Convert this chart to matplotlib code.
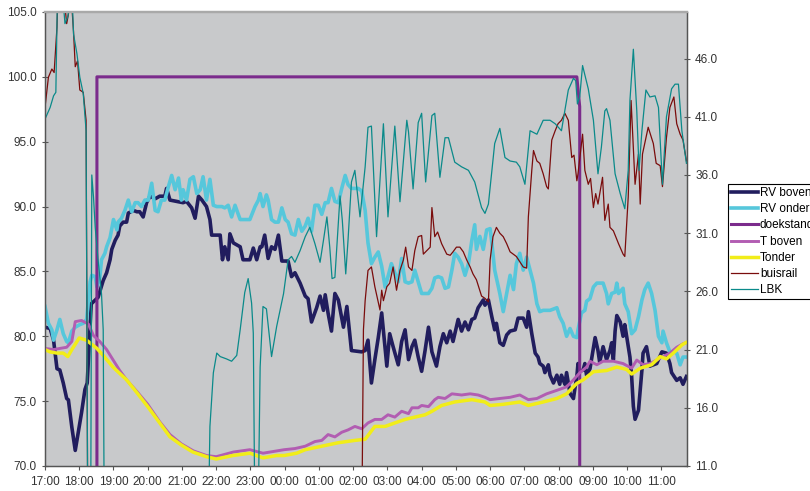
import matplotlib
matplotlib.use('Agg')
import matplotlib.pyplot as plt
import numpy as np

# ------------------------------------------------------------------
#   Data, times are clock times 17:00 -> 11:45
# ------------------------------------------------------------------
rv_boven_time = ['17:00', '17:09', '17:15', '17:21', '17:26', '17:32', '17:38', '17:41', '17:47', '17:53',
                 '17:58', '18:04', '18:10', '18:14', '18:21', '18:33', '18:42', '18:48', '18:54', '18:57',
                 '19:03', '19:08', '19:11', '19:17', '19:23', '19:26', '19:35', '19:41', '19:46', '19:52',
                 '19:58', '20:04', '20:13', '20:21', '20:30', '20:33', '20:39', '20:51', '21:02', '21:08',
                 '21:17', '21:23', '21:29', '21:35', '21:43', '21:49', '21:52', '22:07', '22:11', '22:15',
                 '22:21', '22:24', '22:30', '22:42', '22:47', '22:59', '23:05', '23:11', '23:17', '23:20',
                 '23:25', '23:31', '23:37', '23:43', '23:49', '23:55', '00:06', '00:12', '00:18', '00:27',
                 '00:36', '00:41', '00:47', '00:56', '01:02', '01:08', '01:11', '01:16', '01:22', '01:28',
                 '01:34', '01:43', '01:49', '01:57', '02:15', '02:21', '02:26', '02:32', '02:38', '02:44',
                 '02:50', '02:59', '03:04', '03:10', '03:19', '03:25', '03:31', '03:37', '03:43', '03:48',
                 '03:54', '04:00', '04:06', '04:12', '04:18', '04:26', '04:32', '04:38', '04:44', '04:50',
                 '04:55', '05:04', '05:10', '05:16', '05:22', '05:28', '05:33', '05:39', '05:48', '05:51',
                 '05:57', '06:03', '06:08', '06:11', '06:17', '06:23', '06:29', '06:35', '06:44', '06:49',
                 '06:58', '07:04', '07:07', '07:13', '07:19', '07:24', '07:27', '07:33', '07:36', '07:42',
                 '07:45', '07:51', '07:57', '08:02', '08:05', '08:11', '08:14', '08:20', '08:26', '08:29',
                 '08:32', '08:34', '08:37', '08:43', '08:46', '08:49', '08:55', '09:04', '09:09', '09:12',
                 '09:18', '09:24', '09:30', '09:33', '09:36', '09:39', '09:42', '09:48', '09:53', '09:56',
                 '10:02', '10:05', '10:08', '10:11', '10:14', '10:20', '10:26', '10:28', '10:34', '10:40',
                 '10:46', '10:52', '11:01', '11:09', '11:15', '11:18', '11:27', '11:33', '11:38', '11:44']
rv_boven = [80.7, 80.6, 79.7, 77.5, 77.4, 76.4, 75.2, 75.1, 73.0, 71.2,
            72.5, 74.1, 75.9, 76.4, 82.5, 83.0, 84.3, 84.9, 85.9, 86.7,
            87.4, 87.8, 88.5, 88.8, 88.8, 89.5, 89.7, 89.6, 89.6, 89.2,
            90.3, 90.8, 90.6, 90.8, 90.8, 91.4, 90.5, 90.4, 90.3, 90.4,
            89.9, 89.1, 90.8, 90.5, 90.0, 89.0, 87.8, 87.8, 85.9, 86.9,
            85.9, 87.9, 87.2, 86.9, 85.9, 85.9, 86.8, 85.9, 86.9, 86.9,
            87.8, 86.0, 86.9, 86.7, 87.8, 85.8, 85.8, 84.6, 84.9, 84.1,
            83.1, 82.9, 81.1, 82.2, 83.1, 82.0, 83.2, 81.8, 80.4, 83.3,
            82.8, 80.7, 82.3, 78.9, 78.8, 78.9, 79.7, 76.4, 78.2, 79.9,
            81.8, 77.7, 80.2, 79.2, 77.8, 79.6, 80.5, 78.2, 79.2, 79.7,
            78.4, 77.3, 78.9, 80.7, 78.8, 77.7, 79.2, 80.2, 79.5, 80.4,
            79.6, 81.3, 80.4, 81.1, 80.5, 81.3, 81.4, 82.2, 82.8, 82.4,
            82.8, 81.5, 80.5, 81.0, 79.5, 79.3, 80.1, 80.4, 80.5, 81.4,
            81.4, 80.7, 81.9, 80.2, 78.7, 78.4, 77.9, 77.7, 77.2, 77.8,
            77.0, 76.4, 77.0, 76.3, 77.0, 76.3, 77.2, 75.6, 75.2, 76.1,
            76.9, 77.9, 77.3, 77.4, 77.9, 77.0, 77.5, 79.9, 78.9, 78.0,
            79.2, 78.2, 78.9, 79.5, 78.2, 80.4, 81.6, 81.1, 80.0, 80.9,
            79.2, 78.4, 76.9, 74.6, 73.6, 74.3, 77.4, 78.7, 79.2, 77.7,
            77.8, 77.9, 78.8, 78.7, 77.9, 77.2, 76.6, 76.8, 76.3, 76.9]

rv_onder_time = ['17:00', '17:06', '17:12', '17:15', '17:21', '17:26', '17:32', '17:38', '17:41', '17:47',
                 '17:53', '18:01', '18:07', '18:13', '18:16', '18:19', '18:22', '18:28', '18:31', '18:36',
                 '18:39', '18:45', '18:48', '18:54', '19:00', '19:06', '19:08', '19:14', '19:20', '19:26',
                 '19:29', '19:32', '19:38', '19:43', '19:49', '19:55', '20:01', '20:07', '20:13', '20:18',
                 '20:24', '20:30', '20:36', '20:42', '20:48', '20:54', '20:59', '21:02', '21:08', '21:14',
                 '21:20', '21:26', '21:32', '21:37', '21:43', '21:49', '21:55', '22:01', '22:10', '22:15',
                 '22:21', '22:27', '22:33', '22:42', '22:50', '22:59', '23:08', '23:14', '23:17', '23:22',
                 '23:28', '23:31', '23:37', '23:43', '23:49', '23:55', '00:01', '00:06', '00:12', '00:18',
                 '00:24', '00:30', '00:36', '00:41', '00:47', '00:53', '00:59', '01:05', '01:11', '01:16',
                 '01:22', '01:28', '01:34', '01:40', '01:46', '01:51', '01:57', '02:03', '02:09', '02:15',
                 '02:21', '02:26', '02:32', '02:38', '02:44', '02:50', '02:56', '03:01', '03:07', '03:13',
                 '03:19', '03:25', '03:31', '03:37', '03:43', '03:48', '03:54', '04:00', '04:06', '04:12',
                 '04:18', '04:23', '04:29', '04:35', '04:41', '04:47', '04:53', '04:58', '05:04', '05:10',
                 '05:16', '05:22', '05:28', '05:33', '05:36', '05:42', '05:48', '05:54', '06:00', '06:03',
                 '06:08', '06:17', '06:23', '06:29', '06:35', '06:41', '06:46', '06:52', '06:58', '07:04',
                 '07:10', '07:16', '07:22', '07:27', '07:33', '07:45', '07:57', '08:02', '08:08', '08:14',
                 '08:20', '08:26', '08:32', '08:34', '08:40', '08:46', '08:49', '08:55', '09:01', '09:07',
                 '09:12', '09:18', '09:24', '09:27', '09:33', '09:39', '09:42', '09:45', '09:53', '09:56',
                 '10:02', '10:08', '10:14', '10:20', '10:26', '10:31', '10:37', '10:43', '10:49', '10:55',
                 '11:01', '11:03', '11:09', '11:15', '11:21', '11:27', '11:33', '11:38', '11:44']
rv_onder = [82.3, 81.0, 80.5, 79.7, 80.5, 81.3, 80.2, 79.6, 79.5, 80.4,
            80.7, 80.9, 81.0, 81.3, 82.8, 84.2, 84.7, 84.6, 83.8, 84.5,
            85.9, 86.4, 86.9, 87.6, 89.0, 88.2, 88.8, 89.1, 89.7, 90.5,
            90.0, 89.6, 90.3, 90.3, 90.0, 90.5, 90.5, 91.8, 89.7, 89.6,
            90.5, 90.5, 91.5, 92.4, 91.3, 92.2, 90.5, 91.3, 90.5, 92.1,
            92.3, 91.0, 91.3, 92.3, 90.5, 92.1, 90.1, 90.0, 90.0, 89.9,
            90.1, 89.2, 90.1, 89.0, 89.0, 89.0, 90.0, 90.5, 91.0, 90.0,
            90.9, 90.5, 89.0, 88.8, 88.8, 89.9, 89.0, 88.8, 87.9, 87.8,
            89.0, 88.1, 88.5, 89.1, 88.1, 90.1, 90.1, 89.4, 90.3, 90.3,
            91.4, 90.4, 90.3, 91.4, 92.4, 91.7, 91.4, 91.4, 91.4, 91.2,
            89.7, 87.2, 85.6, 86.1, 86.5, 85.4, 83.8, 84.6, 85.6, 84.9,
            84.2, 86.0, 84.2, 84.1, 84.2, 85.1, 84.2, 83.3, 83.3, 83.3,
            83.7, 84.5, 84.6, 84.5, 83.7, 83.8, 85.1, 86.4, 86.1, 85.6,
            84.7, 85.6, 87.4, 88.6, 86.7, 87.7, 86.7, 88.2, 88.3, 87.2,
            85.1, 83.3, 81.9, 83.3, 84.7, 83.6, 85.6, 86.4, 85.1, 86.1,
            85.1, 84.1, 82.5, 81.9, 82.0, 82.0, 82.2, 81.5, 81.0, 80.0,
            80.6, 80.0, 79.9, 80.5, 81.8, 82.0, 82.7, 82.9, 83.8, 84.1,
            84.1, 84.1, 83.3, 82.5, 83.3, 83.4, 84.1, 83.3, 83.7, 82.5,
            81.9, 80.2, 80.5, 81.5, 82.8, 83.6, 84.1, 83.3, 82.0, 80.0,
            79.5, 80.4, 79.5, 78.8, 78.8, 78.7, 77.8, 78.4, 78.4]

doekstand_time = ['17:00', '18:31', '18:31', '08:32', '08:37', '08:37', '11:44']
doekstand = [0, 0, 100, 100, 97.7, 0, 0]

t_boven_time = ['17:00', '17:15', '17:26', '17:38', '17:47', '17:53', '18:04', '18:16', '18:25', '18:36',
                '18:48', '19:11', '19:23', '19:41', '20:00', '20:21', '20:39', '20:59', '21:20', '21:43',
                '22:00', '22:30', '22:59', '23:22', '23:59', '00:18', '00:36', '00:53', '01:05', '01:16',
                '01:28', '01:40', '01:51', '02:03', '02:15', '02:26', '02:38', '02:50', '03:01', '03:13',
                '03:25', '03:37', '03:43', '03:54', '04:00', '04:12', '04:23', '04:29', '04:41', '04:53',
                '05:10', '05:25', '05:39', '05:51', '06:00', '06:17', '06:35', '06:52', '07:07', '07:22',
                '07:39', '07:57', '08:14', '08:26', '08:37', '08:49', '08:55', '09:07', '09:18', '09:36',
                '09:53', '10:08', '10:17', '10:28', '10:40', '10:52', '11:03', '11:15', '11:27', '11:38',
                '11:44']
t_boven = [21.1, 21.0, 21.1, 21.2, 21.7, 23.4, 23.5, 23.2, 22.2, 21.7,
           21.0, 19.2, 18.4, 17.4, 16.3, 14.8, 13.7, 12.9, 12.3, 11.9,
           11.8, 12.2, 12.4, 12.1, 12.4, 12.5, 12.7, 13.1, 13.2, 13.7,
           13.5, 13.9, 14.1, 14.4, 14.2, 14.7, 15.0, 15.0, 15.4, 15.2,
           15.7, 15.5, 16.0, 16.0, 16.2, 16.1, 16.7, 16.9, 16.8, 17.2,
           17.1, 17.2, 17.1, 16.9, 16.7, 16.8, 16.9, 17.1, 16.7, 16.8,
           17.2, 17.5, 17.8, 18.4, 19.0, 19.5, 20.0, 19.7, 20.0, 20.0,
           19.8, 19.4, 20.1, 19.7, 19.8, 20.1, 20.4, 20.7, 21.2, 21.5,
           21.6]

t_onder_time = ['17:00', '17:09', '17:21', '17:32', '17:40', '17:47', '18:00', '18:13', '18:31', '18:42',
                '18:59', '19:23', '19:41', '20:00', '20:21', '20:39', '20:59', '21:19', '21:43', '22:00',
                '22:29', '22:59', '23:22', '23:46', '23:59', '00:21', '00:36', '01:05', '01:34', '02:03',
                '02:21', '02:38', '02:56', '03:13', '03:31', '03:48', '04:06', '04:18', '04:35', '04:58',
                '05:28', '05:51', '06:00', '06:23', '06:52', '07:07', '07:33', '07:57', '08:14', '08:32',
                '08:43', '09:01', '09:24', '09:42', '09:59', '10:08', '10:23', '10:43', '10:58', '11:09',
                '11:21', '11:36', '11:43']
t_onder = [21.0, 20.8, 20.7, 20.7, 20.4, 21.0, 22.0, 21.8, 21.1, 20.5,
           19.5, 18.4, 17.3, 16.1, 14.7, 13.5, 12.8, 12.2, 11.8, 11.6,
           11.9, 12.1, 11.7, 11.9, 11.9, 12.1, 12.4, 12.7, 13.0, 13.2,
           13.3, 14.4, 14.4, 14.7, 15.0, 15.2, 15.4, 15.7, 16.2, 16.5,
           16.7, 16.5, 16.2, 16.3, 16.5, 16.2, 16.5, 16.8, 17.2, 18.1,
           18.4, 19.1, 19.2, 19.5, 19.3, 18.9, 19.4, 19.7, 20.4, 20.2,
           20.7, 21.4, 21.6]

# buisrail: 52 = above the axis, 5 = below the axis (off scale)
buisrail_time = ['17:00', '17:06', '17:12', '17:16', '17:21', '17:23', '17:32', '17:38', '17:41', '17:45',
                 '17:50', '17:53', '17:57', '18:01', '18:07', '18:12', '18:15', '02:15', '02:18', '02:21',
                 '02:26', '02:32', '02:38', '02:47', '02:50', '02:53', '02:59', '03:04', '03:10', '03:16',
                 '03:22', '03:28', '03:32', '03:37', '03:43', '03:48', '03:54', '04:00', '04:03', '04:09',
                 '04:15', '04:18', '04:23', '04:28', '04:35', '04:44', '04:50', '04:55', '05:01', '05:07',
                 '05:13', '05:19', '05:25', '05:30', '05:36', '05:45', '05:51', '05:57', '06:00', '06:05',
                 '06:11', '06:17', '06:23', '06:29', '06:35', '06:46', '06:58', '07:04', '07:07', '07:13',
                 '07:16', '07:22', '07:27', '07:33', '07:39', '07:42', '07:48', '07:54', '07:59', '08:05',
                 '08:11', '08:17', '08:23', '08:27', '08:32', '08:34', '08:42', '08:46', '08:52', '08:56',
                 '09:01', '09:05', '09:09', '09:17', '09:21', '09:27', '09:30', '09:36', '09:45', '09:53',
                 '09:56', '10:02', '10:07', '10:14', '10:20', '10:23', '10:27', '10:37', '10:46', '10:51',
                 '10:58', '11:02', '11:09', '11:15', '11:22', '11:27', '11:33', '11:38', '11:44']
buisrail = [41.8, 44.4, 45.1, 44.8, 48.7, 52, 52, 49.0, 49.8, 52,
            48.3, 45.3, 45.8, 43.3, 43.1, 40.7, 5, 5, 22.7, 25.2,
            27.8, 28.1, 26.4, 24.4, 26.1, 25.2, 26.4, 26.7, 28.1, 26.1,
            27.8, 28.7, 29.8, 28.1, 27.8, 29.5, 30.7, 30.8, 29.2, 29.5,
            29.8, 33.2, 30.7, 31.1, 30.1, 29.2, 29.1, 29.4, 29.8, 29.8,
            29.4, 28.7, 28.1, 27.5, 27.0, 25.6, 25.4, 25.1, 28.7, 30.7,
            31.5, 31.0, 30.7, 30.1, 29.4, 29.0, 28.1, 28.0, 32.4, 36.4,
            38.1, 37.2, 37.0, 36.1, 35.0, 34.8, 39.0, 39.8, 40.4, 40.7,
            41.3, 40.7, 37.5, 37.7, 35.5, 36.1, 39.5, 36.4, 35.2, 35.7,
            33.2, 34.4, 33.5, 35.8, 32.1, 33.5, 31.5, 31.2, 30.1, 29.2,
            29.0, 34.1, 42.4, 35.2, 37.8, 33.5, 37.8, 40.1, 38.7, 37.0,
            36.8, 35.0, 39.2, 41.8, 42.7, 40.4, 39.5, 39.0, 37.2]

lbk_time = ['17:00', '17:09', '17:15', '17:19', '17:22', '17:30', '17:35', '17:40', '17:47', '17:50',
            '17:56', '18:01', '18:07', '18:12', '18:15', '18:20', '18:22', '18:25', '18:28', '18:33',
            '18:39', '18:42', '18:44', '21:46', '21:49', '21:55', '22:01', '22:07', '22:18', '22:27',
            '22:36', '22:42', '22:50', '22:56', '23:02', '23:05', '23:08', '23:13', '23:17', '23:22',
            '23:28', '23:37', '23:46', '23:58', '00:06', '00:12', '00:18', '00:27', '00:36', '00:44',
            '00:53', '01:02', '01:08', '01:14', '01:19', '01:23', '01:28', '01:37', '01:41', '01:47',
            '01:51', '01:57', '02:03', '02:12', '02:21', '02:26', '02:32', '02:41', '02:53', '03:01',
            '03:13', '03:22', '03:34', '03:37', '03:45', '03:54', '04:00', '04:07', '04:18', '04:23',
            '04:32', '04:41', '04:47', '04:58', '05:10', '05:22', '05:33', '05:45', '05:51', '05:57',
            '06:08', '06:17', '06:26', '06:35', '06:46', '06:52', '07:01', '07:10', '07:22', '07:33',
            '07:45', '07:54', '08:05', '08:17', '08:26', '08:30', '08:33', '08:37', '08:42', '08:52',
            '09:01', '09:09', '09:15', '09:21', '09:24', '09:30', '09:39', '09:48', '09:56', '10:02',
            '10:05', '10:11', '10:17', '10:21', '10:26', '10:33', '10:40', '10:49', '10:55', '11:02',
            '11:09', '11:18', '11:24', '11:30', '11:36', '11:44']
lbk = [40.8, 41.8, 42.8, 43.1, 52, 52, 49.0, 49.6, 52, 48.1,
       46.4, 44.4, 43.0, 39.8, 5, 5, 36.0, 34.1, 31.5, 28.7,
       25.8, 22.7, 5, 5, 14.4, 19.0, 20.7, 20.4, 20.2, 20.0,
       20.5, 22.7, 25.9, 27.1, 25.0, 22.4, 5, 5, 19.5, 24.7,
       24.5, 20.4, 23.0, 25.8, 28.7, 29.0, 28.5, 29.5, 30.7, 31.5,
       30.1, 28.5, 30.4, 32.4, 29.8, 27.1, 27.2, 34.2, 32.1, 27.5,
       30.4, 35.4, 36.4, 32.4, 36.7, 40.1, 40.2, 30.7, 40.4, 32.4,
       40.2, 33.7, 40.7, 39.7, 34.8, 40.5, 41.3, 35.4, 41.1, 41.3,
       35.8, 39.2, 39.2, 37.1, 36.7, 36.4, 35.4, 33.2, 32.7, 33.5,
       38.7, 40.0, 37.5, 37.2, 37.1, 36.7, 35.2, 39.8, 39.5, 40.7,
       40.7, 40.4, 39.8, 43.3, 44.3, 44.1, 42.1, 42.7, 45.4, 43.4,
       40.7, 36.1, 38.4, 41.5, 41.7, 40.7, 36.1, 34.4, 33.1, 36.4,
       42.4, 46.8, 41.5, 36.4, 39.8, 43.3, 42.7, 42.8, 41.8, 35.2,
       41.0, 43.4, 43.8, 43.8, 39.8, 37.0]


def clock_to_hours(times):
    # hours since midnight of the first day; times before 17:00 are the next day
    out = []
    for s in times:
        h, m = s.split(':')
        t = int(h) + int(m) / 60.0
        if t < 17:
            t += 24
        out.append(t)
    return np.array(out)


plt.rcParams['font.family'] = ['Liberation Sans', 'DejaVu Sans']
plt.rcParams['font.size'] = 8.5

fig = plt.figure(figsize=(8.1, 4.91), dpi=100)
ax = fig.add_axes([45 / 810, 25 / 491, 642 / 810, 454 / 491])
ax.set_facecolor('#c8c9cb')
ax2 = ax.twinx()

l1, = ax.plot(clock_to_hours(rv_boven_time), rv_boven, color='#211d5e', lw=2.6, label='RV boven')
l2, = ax.plot(clock_to_hours(rv_onder_time), rv_onder, color='#56c7db', lw=2.6, label='RV onder')
l3, = ax.plot(clock_to_hours(doekstand_time), doekstand, color='#7b2b8c', lw=2.2, label='doekstand')
l4, = ax2.plot(clock_to_hours(t_boven_time), t_boven, color='#b25db2', lw=2.1, label='T boven')
l5, = ax2.plot(clock_to_hours(t_onder_time), t_onder, color='#f1ed19', lw=2.5, label='Tonder')
l6, = ax2.plot(clock_to_hours(buisrail_time), buisrail, color='#7a0c0c', lw=0.9, label='buisrail')
l7, = ax2.plot(clock_to_hours(lbk_time), lbk, color='#0a8a8a', lw=0.9, label='LBK')

ax.set_xlim(17, 35.75)
ax.set_ylim(70, 105)
ax2.set_ylim(11, 50)

hours = np.arange(17, 36)
ax.set_xticks(hours)
ax.set_xticklabels(['%02d:00' % (h % 24) for h in hours])
ax.set_yticks(np.arange(70, 106, 5))
ax.set_yticklabels(['%.1f' % v for v in np.arange(70, 106, 5)])
ax2.set_yticks(np.arange(11, 47, 5))
ax2.set_yticklabels(['%.1f' % v for v in np.arange(11, 47, 5)])

ax.tick_params(axis='y', direction='inout', length=5, width=0.8, color='#555555',
               labelcolor='#333333', pad=3.3)
ax2.tick_params(axis='y', direction='inout', length=5, width=0.8, color='#555555',
                labelcolor='#333333', pad=3.3)
ax.tick_params(axis='x', direction='out', length=3, width=0.8, color='#555555',
               labelcolor='#333333', pad=4)

for a in (ax, ax2):
    a.spines['top'].set_color('#a9a9a9')
    a.spines['top'].set_linewidth(1.6)
    for side in ('left', 'right', 'bottom'):
        a.spines[side].set_color('#555555')
        a.spines[side].set_linewidth(0.9)

leg = fig.legend(handles=[l1, l2, l3, l4, l5, l6, l7], loc='upper left',
                 bbox_to_anchor=(728 / 810, 1 - 184 / 491), borderaxespad=0,
                 frameon=True, fancybox=False, framealpha=1, edgecolor='black',
                 handlelength=2.3, handletextpad=0.15, labelspacing=0.36, borderpad=0.25,
                 fontsize=8.5)
leg.get_frame().set_linewidth(0.8)

fig.savefig('out.png', dpi=100)
